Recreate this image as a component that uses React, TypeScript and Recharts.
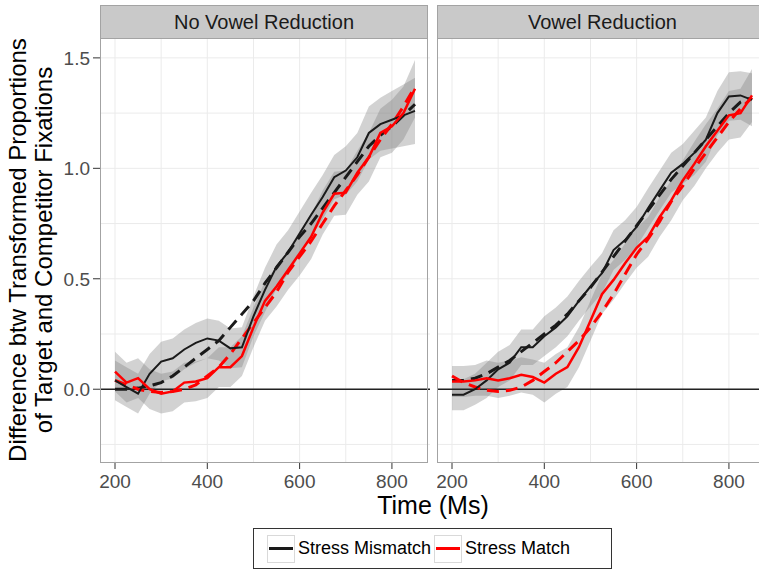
import React from 'react';
import {
  ComposedChart,
  Area,
  Line,
  XAxis,
  YAxis,
  CartesianGrid,
  ReferenceLine,
} from 'recharts';

const FONT = '"Liberation Sans", Arial, Helvetica, sans-serif';

// time points (ms)
const times = [
  200, 225, 250, 275, 300, 325, 350, 375, 400, 425, 450, 475, 500, 525,
  550, 575, 600, 625, 650, 675, 700, 725, 750, 775, 800, 825, 850,
];
const timeTicks = [200, 400, 600, 800];
const timeGrid = [200, 300, 400, 500, 600, 700, 800];
const valueTicks = [0, 0.5, 1, 1.5];
const valueGrid = [-0.25, 0, 0.25, 0.5, 0.75, 1, 1.25, 1.5];
const panelTitles = ['No Vowel Reduction', 'Vowel Reduction'];
const seriesNames = ['Stress Mismatch', 'Stress Match'];

// No Vowel Reduction: observed, model fit, ribbon half-width
const nvrMismatchObs = [
  0.04, 0.01, -0.02, 0.07, 0.125, 0.14, 0.18, 0.21, 0.23, 0.22, 0.185, 0.19, 0.33, 0.45,
  0.555, 0.62, 0.705, 0.79, 0.87, 0.96, 0.99, 1.05, 1.16, 1.2, 1.22, 1.24, 1.26,
];
const nvrMatchObs = [
  0.08, 0.03, 0.05, 0.0, -0.02, -0.01, 0.03, 0.035, 0.05, 0.1, 0.1, 0.15, 0.28, 0.4,
  0.465, 0.54, 0.615, 0.69, 0.8, 0.885, 0.89, 0.98, 1.05, 1.16, 1.19, 1.25, 1.36,
];
const nvrMismatchFit = [
  0.0, 0.0, 0.005, 0.015, 0.03, 0.06, 0.1, 0.14, 0.18, 0.22, 0.28, 0.34, 0.4, 0.48,
  0.55, 0.62, 0.69, 0.75, 0.82, 0.89, 0.96, 1.03, 1.1, 1.15, 1.19, 1.24, 1.29,
];
const nvrMatchFit = [
  0.04, 0.02, 0.0, -0.01, -0.015, -0.01, 0.0, 0.02, 0.06, 0.1, 0.16, 0.23, 0.3, 0.37,
  0.44, 0.53, 0.6, 0.67, 0.75, 0.83, 0.9, 0.97, 1.05, 1.13, 1.2, 1.28, 1.37,
];
const nvrMismatchSe = [
  0.09, 0.09, 0.09, 0.09, 0.09, 0.09, 0.09, 0.09, 0.09, 0.09, 0.09, 0.09, 0.09, 0.1,
  0.1, 0.1, 0.1, 0.1, 0.1, 0.1, 0.11, 0.11, 0.12, 0.12, 0.13, 0.14, 0.15,
];
const nvrMatchSe = [
  0.09, 0.09, 0.09, 0.09, 0.09, 0.09, 0.09, 0.09, 0.09, 0.09, 0.09, 0.09, 0.09, 0.09,
  0.09, 0.09, 0.1, 0.1, 0.1, 0.1, 0.1, 0.1, 0.11, 0.11, 0.12, 0.12, 0.13,
];

// Vowel Reduction
const vrMismatchObs = [
  -0.025, -0.025, 0.0, 0.04, 0.09, 0.12, 0.19, 0.19, 0.24, 0.28, 0.33, 0.4, 0.465, 0.525,
  0.63, 0.675, 0.735, 0.82, 0.9, 0.98, 1.02, 1.07, 1.13, 1.25, 1.325, 1.33, 1.31,
];
const vrMatchObs = [
  0.035, 0.035, 0.04, 0.05, 0.04, 0.05, 0.065, 0.055, 0.03, 0.07, 0.1, 0.19, 0.31, 0.43,
  0.495, 0.57, 0.64, 0.69, 0.78, 0.855, 0.945, 1.02, 1.1, 1.17, 1.24, 1.25, 1.33,
];
const vrMismatchFit = [
  0.04, 0.04, 0.05, 0.07, 0.1, 0.13, 0.17, 0.21, 0.25, 0.29, 0.34, 0.4, 0.46, 0.53,
  0.6, 0.67, 0.74, 0.81, 0.88, 0.95, 1.01, 1.07, 1.13, 1.19, 1.25, 1.3, 1.32,
];
const vrMatchFit = [
  0.06, 0.03, 0.01, -0.005, -0.01, -0.005, 0.01, 0.04, 0.08, 0.12, 0.17, 0.22, 0.28, 0.35,
  0.43, 0.52, 0.61, 0.68, 0.76, 0.85, 0.92, 1.0, 1.07, 1.14, 1.21, 1.27, 1.32,
];
const vrMismatchSe = [
  0.07, 0.07, 0.07, 0.08, 0.08, 0.08, 0.08, 0.08, 0.09, 0.09, 0.09, 0.09, 0.09, 0.09,
  0.09, 0.09, 0.09, 0.09, 0.09, 0.09, 0.09, 0.1, 0.1, 0.1, 0.11, 0.11, 0.12,
];
const vrMatchSe = [
  0.07, 0.07, 0.07, 0.08, 0.08, 0.08, 0.08, 0.08, 0.09, 0.09, 0.09, 0.09, 0.09, 0.09,
  0.09, 0.09, 0.09, 0.09, 0.09, 0.09, 0.09, 0.1, 0.1, 0.1, 0.11, 0.11, 0.12,
];

function buildRows(
  misObs: number[],
  misFit: number[],
  misSe: number[],
  matObs: number[],
  matFit: number[],
  matSe: number[],
) {
  return times.map((t, i) => ({
    t,
    mismatch: misObs[i],
    match: matObs[i],
    mismatchFit: misFit[i],
    matchFit: matFit[i],
    mismatchBand: [misObs[i] - misSe[i], misObs[i] + misSe[i]],
    matchBand: [matObs[i] - matSe[i], matObs[i] + matSe[i]],
  }));
}

const panels = [
  {
    left: 0,
    plotLeft: 100,
    rows: buildRows(nvrMismatchObs, nvrMismatchFit, nvrMismatchSe, nvrMatchObs, nvrMatchFit, nvrMatchSe),
  },
  {
    left: 437,
    plotLeft: 437,
    rows: buildRows(vrMismatchObs, vrMismatchFit, vrMismatchSe, vrMatchObs, vrMatchFit, vrMatchSe),
  },
];

const PLOT_TOP = 38;
const PLOT_H = 425;
const PLOT_W = 330;
const BLACK = '#1a1a1a';
const RED = '#ff0000';

function Panel({ rows, left, showY }: { rows: any[]; left: number; showY: boolean }) {
  const width = (showY ? 100 : 0) + PLOT_W + 2;
  return (
    <div style={{ position: 'absolute', left, top: PLOT_TOP }}>
      <ComposedChart
        width={width}
        height={PLOT_H + 40}
        data={rows}
        margin={{ top: 0, right: 2, bottom: 0, left: 0 }}
      >
        <CartesianGrid
          stroke="#ebebeb"
          strokeWidth={1}
          horizontalValues={valueGrid}
          verticalValues={timeGrid}
        />
        <XAxis
          dataKey="t"
          type="number"
          domain={[167.5, 882.5]}
          ticks={timeTicks}
          allowDataOverflow
          height={40}
          axisLine={false}
          tickSize={6}
          tickMargin={6}
          tickLine={{ stroke: '#333' }}
          tick={{ fill: '#4d4d4d', fontSize: 19, fontFamily: FONT }}
        />
        <YAxis
          type="number"
          domain={[-0.334, 1.59]}
          ticks={valueTicks}
          allowDataOverflow
          hide={!showY}
          width={100}
          axisLine={false}
          tickSize={7}
          tickMargin={3}
          tickLine={{ stroke: '#333' }}
          tickFormatter={(v: number) => v.toFixed(1)}
          tick={{ fill: '#4d4d4d', fontSize: 19, fontFamily: FONT }}
        />
        <ReferenceLine y={0} stroke="#222" strokeWidth={1.5} />
        <Area
          dataKey="mismatchBand"
          stroke="none"
          fill="#7f7f7f"
          fillOpacity={0.35}
          isAnimationActive={false}
        />
        <Area
          dataKey="matchBand"
          stroke="none"
          fill="#7f7f7f"
          fillOpacity={0.35}
          isAnimationActive={false}
        />
        <Line
          dataKey="mismatchFit"
          stroke={BLACK}
          strokeWidth={3}
          strokeDasharray="12 7"
          dot={false}
          isAnimationActive={false}
        />
        <Line
          dataKey="matchFit"
          stroke={RED}
          strokeWidth={3}
          strokeDasharray="12 7"
          dot={false}
          isAnimationActive={false}
        />
        <Line
          dataKey="mismatch"
          stroke={BLACK}
          strokeWidth={2}
          dot={false}
          isAnimationActive={false}
        />
        <Line
          dataKey="match"
          stroke={RED}
          strokeWidth={2.5}
          dot={false}
          isAnimationActive={false}
        />
      </ComposedChart>
    </div>
  );
}

function LegendKey({ color }: { color: string }) {
  return (
    <div
      style={{
        width: 28,
        height: 28,
        boxSizing: 'border-box',
        border: '1px solid #d9d9d9',
        display: 'flex',
        alignItems: 'center',
        justifyContent: 'center',
      }}
    >
      <div style={{ width: 24, height: 3, background: color }} />
    </div>
  );
}

export default function App() {
  return (
    <div
      style={{
        position: 'absolute',
        left: 0,
        top: 0,
        width: 759,
        height: 572,
        overflow: 'hidden',
        background: '#fff',
        fontFamily: FONT,
      }}
    >
      {panels.map((p, i) => (
        <Panel key={i} rows={p.rows} left={p.left} showY={i === 0} />
      ))}

      {panels.map((p, i) => (
        <React.Fragment key={'frame' + i}>
          <div
            style={{
              position: 'absolute',
              left: p.plotLeft,
              top: 5,
              width: i === 0 ? 328 : PLOT_W + 1,
              height: PLOT_TOP - 5 + 1,
              boxSizing: 'border-box',
              border: '1px solid #a3a3a3',
              background: '#c9c9c9',
              color: '#1a1a1a',
              fontSize: 20,
              lineHeight: '32px',
              textAlign: 'center',
            }}
          >
            {panelTitles[i]}
          </div>
          <div
            style={{
              position: 'absolute',
              left: p.plotLeft,
              top: PLOT_TOP,
              width: i === 0 ? 328 : PLOT_W + 1,
              height: PLOT_H,
              boxSizing: 'border-box',
              border: '1px solid #a3a3a3',
            }}
          />
        </React.Fragment>
      ))}

      {/* y axis title */}
      <div
        style={{
          position: 'absolute',
          left: 33 - 240,
          top: 250 - 28,
          width: 480,
          height: 56,
          transform: 'rotate(-90deg)',
          textAlign: 'center',
          fontSize: 24,
          lineHeight: '26px',
          color: '#000',
          whiteSpace: 'nowrap',
        }}
      >
        Difference btw Transformed Proportions
        <br />
        of Target and Competitor Fixations
      </div>

      {/* x axis title */}
      <div
        style={{
          position: 'absolute',
          left: 333,
          top: 490,
          width: 200,
          textAlign: 'center',
          fontSize: 25,
          lineHeight: '30px',
          color: '#000',
        }}
      >
        Time (Ms)
      </div>

      {/* legend */}
      <div
        style={{
          position: 'absolute',
          left: 253,
          top: 528,
          width: 359,
          height: 41,
          boxSizing: 'border-box',
          border: '1px solid #333',
          display: 'flex',
          alignItems: 'center',
          paddingLeft: 13,
          fontSize: 18,
          color: '#000',
        }}
      >
        <LegendKey color={BLACK} />
        <span style={{ marginLeft: 3, marginRight: 3 }}>{seriesNames[0]}</span>
        <LegendKey color={RED} />
        <span style={{ marginLeft: 3 }}>{seriesNames[1]}</span>
      </div>
    </div>
  );
}
